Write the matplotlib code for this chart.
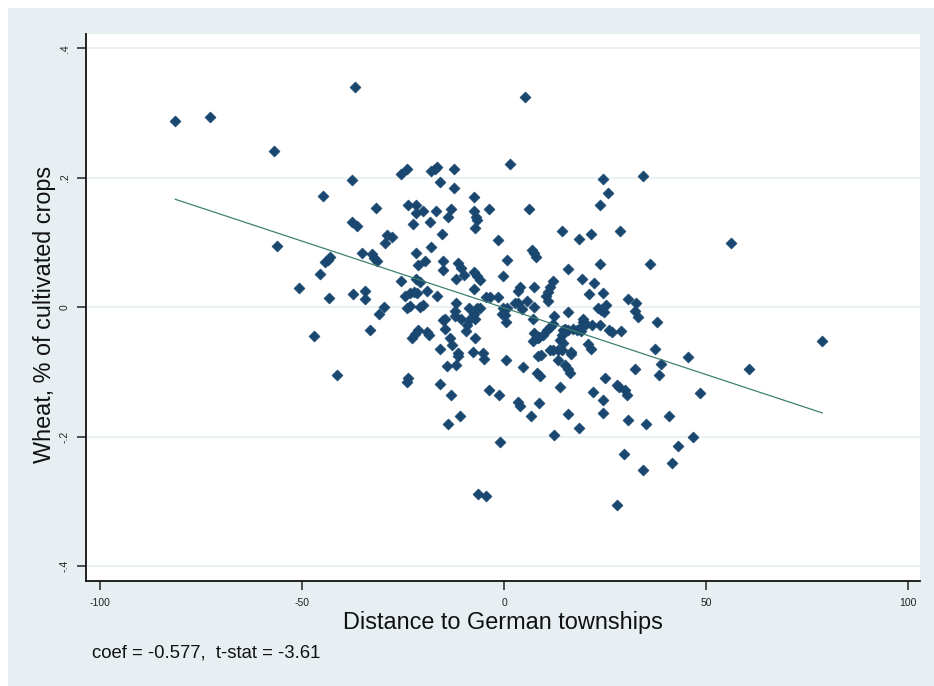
"""Wheat share vs. distance to German townships, Stata-style scatter with linear fit."""

import matplotlib.pyplot as plt
from matplotlib.patches import Rectangle
import numpy as np

plt.rcParams["font.family"] = ["Liberation Sans", "DejaVu Sans"]

distance = [
    -81.4, -72.7, -56.9, -36.9, -37.6, -44.8, -31.7, -37.6, -36.3, -29.0, -29.5, -56.1,
    -35.1, -32.7, -32.1, -31.5, -43.1, -43.6, -44.2, -45.6, -50.8, -43.3, -37.3, -34.3,
    -34.3, -29.8, -30.9, -47.0, -33.2, -41.4,
    34.3, 28.7, 56.2, 36.2, 30.6, 32.8, 32.4, 33.2, 37.8, 37.3, 45.6, 38.9,
    38.4, 32.4, 60.7, 78.8, 48.6, 30.6, 35.1, 40.8, 46.8, 43.0, 29.8, 41.5, 34.3, 28.0,
    5.3, 1.6, -25.6, -24.1, -18.1, -17.2, -16.5, -12.4, -15.8, -12.4, 24.6, 25.7,
    23.7, -7.5, -7.5, -6.9, -6.6, -7.1, -3.8, 6.1, -23.8, -21.9, -21.9, -20.1,
    -16.9, -22.6, -18.4, -13.9, -13.2, -15.4, -27.8, 14.3, 18.5, 21.5, -1.6, 6.9,
    7.4, 7.9, -21.8, -18.1, -21.4, -19.5, -15.0, -15.0, -11.4, -10.6, -9.8, -12.0,
    -7.4, -6.6, -5.9, 0.7, -0.3, 15.9, 23.7, 19.2, 22.3, 21.1, 24.6, 12.1,
    11.4, 11.0, 10.4, 11.0, 7.5, 3.5, 3.9, 5.6, 7.5, -25.6, -19.1, -16.5,
    -24.5, -23.3, -22.2, -21.6, -24.1, -23.4, -20.7, -20.0, -12.0, -7.4, -4.5, -3.5,
    -1.4, -8.6, -6.8, -5.9, -0.2, 0.7, 2.7, 3.5, 12.4, 15.9, 23.3, 25.2,
    24.8, 19.6, -12.1, -12.1, -14.6,
    -15.0, -14.5, -10.6, -8.6, -9.1, -9.4, -7.1, -7.4, -7.1, -13.4, -12.9, -15.8,
    -11.5, -11.3, -14.2, -11.9, -18.5, -19.1, -21.2, -22.8, -22.0, -7.6, -5.1, -5.0,
    -15.8, -13.2, -13.9, -10.9, -23.8, -24.1, -3.7, -1.2, -1.1, -6.5, -4.5, 0.4,
    4.6, 3.5, 4.0, 8.7, 6.8, 12.4, 15.9, 18.5, 13.9, 8.4, 9.2, 8.1,
    8.9, 13.4, 15.1, 15.8, 16.3, 11.4, 12.2, 13.4, 14.3, 16.5, 16.7, 13.9,
    14.3, 14.7, 14.5, 7.4, 8.5, 7.3, 8.7, 9.7, 10.6, 11.4, 12.2, 7.1,
    15.1, 15.9, 17.0, 18.0, 19.1, 19.6, 20.3, 21.7, 19.2, 20.9, 21.5, 23.8,
    26.1, 26.8, 29.0, 25.0, 22.1, 24.6, 24.6, 27.9, 28.5, 29.9, 30.5, 24.1,
    0.2, 0.5, -0.6, -21.9, -20.9, 4.4,
]

wheat_share = [
    0.287, 0.294, 0.242, 0.340, 0.197, 0.172, 0.153, 0.132, 0.125, 0.111, 0.099, 0.094,
    0.083, 0.082, 0.076, 0.071, 0.077, 0.073, 0.070, 0.052, 0.029, 0.014, 0.020, 0.025,
    0.012, 0.000, -0.011, -0.044, -0.036, -0.105,
    0.202, 0.118, 0.099, 0.066, 0.012, 0.007, -0.006, -0.015, -0.023, -0.065, -0.077, -0.088,
    -0.105, -0.095, -0.095, -0.053, -0.133, -0.175, -0.180, -0.168, -0.200, -0.215, -0.227, -0.240, -0.251, -0.306,
    0.325, 0.221, 0.205, 0.214, 0.210, 0.214, 0.217, 0.214, 0.193, 0.184, 0.198, 0.176,
    0.158, 0.170, 0.149, 0.139, 0.134, 0.123, 0.151, 0.151, 0.158, 0.158, 0.145, 0.148,
    0.148, 0.128, 0.132, 0.140, 0.151, 0.113, 0.108, 0.118, 0.106, 0.113, 0.104, 0.088,
    0.083, 0.077, 0.083, 0.093, 0.065, 0.071, 0.072, 0.057, 0.068, 0.061, 0.049, 0.044,
    0.054, 0.048, 0.042, 0.073, 0.048, 0.059, 0.066, 0.043, 0.038, 0.020, 0.022, 0.040,
    0.031, 0.024, 0.017, 0.009, 0.031, 0.025, 0.031, 0.010, 0.000, 0.040, 0.025, 0.017,
    0.017, 0.022, 0.024, 0.022, -0.002, 0.002, 0.000, 0.003, 0.007, 0.028, 0.015, 0.015,
    0.015, -0.002, -0.002, -0.002, -0.002, -0.002, 0.006, 0.006, -0.014, -0.008, -0.001, 0.003,
    -0.007, -0.018, -0.006, -0.014, -0.018,
    -0.020, -0.034, -0.019, -0.020, -0.028, -0.037, -0.018, -0.010, -0.048, -0.048, -0.058, -0.065,
    -0.071, -0.076, -0.091, -0.089, -0.043, -0.038, -0.035, -0.047, -0.042, -0.069, -0.071, -0.080,
    -0.119, -0.135, -0.180, -0.168, -0.110, -0.115, -0.128, -0.135, -0.208, -0.288, -0.291, -0.082,
    -0.093, -0.146, -0.152, -0.148, -0.168, -0.198, -0.165, -0.187, -0.123, -0.076, -0.074, -0.102,
    -0.106, -0.082, -0.089, -0.096, -0.101, -0.066, -0.066, -0.066, -0.066, -0.069, -0.072, -0.051,
    -0.043, -0.035, -0.056, -0.040, -0.048, -0.053, -0.046, -0.043, -0.035, -0.030, -0.026, -0.019,
    -0.033, -0.035, -0.034, -0.035, -0.037, -0.023, -0.026, -0.028, -0.029, -0.057, -0.064, -0.028,
    -0.035, -0.038, -0.037, -0.109, -0.131, -0.144, -0.163, -0.120, -0.124, -0.128, -0.135, -0.005,
    -0.012, -0.023, -0.010, 0.044, 0.039, -0.003,
]

# fitted line (same units as the plotted axes)
fit_intercept = -0.001
fit_slope = -0.00206

x_ticks = [-100, -50, 0, 50, 100]
y_ticks = [0.4, 0.2, 0.0, -0.2, -0.4]
y_tick_labels = [".4", ".2", "0", "-.2", "-.4"]

NAVY = "#1a476f"
FIT_GREEN = "#3f806f"
BG = "#e8eff2"

fig = plt.figure(figsize=(9.34, 6.86), dpi=100, facecolor="white")
fig.patches.append(Rectangle((8 / 934, 0), 1, 1 - 8 / 686, transform=fig.transFigure,
                             facecolor=BG, edgecolor="none", zorder=-10))

ax = fig.add_axes([86 / 934, 1 - 581 / 686, (920 - 86) / 934, (581 - 34) / 686])
ax.set_facecolor("white")

ax.scatter(distance, wheat_share, marker="D", s=32, color=NAVY,
           edgecolors=NAVY, linewidths=0.4, zorder=3)

xs = np.array([min(distance), max(distance)])
ax.plot(xs, fit_intercept + fit_slope * xs, color=FIT_GREEN, lw=0.9, zorder=4)

ax.set_xlim(-103.5, 103)
ax.set_ylim(-0.423, 0.422)
ax.set_xticks(x_ticks)
ax.set_xticklabels([str(t) for t in x_ticks], fontsize=7.5, color="#222222")
ax.set_yticks(y_ticks)
ax.set_yticklabels(y_tick_labels, fontsize=7.5, color="#222222",
                   rotation=90, va="center")
ax.tick_params(direction="out", length=6.5, width=1.1, colors="#222222")
ax.tick_params(axis="x", pad=6)
ax.tick_params(axis="y", pad=5)

ax.grid(axis="y", color="#eaf1f3", lw=1.4, zorder=0)
ax.set_axisbelow(True)

for side in ("top", "right"):
    ax.spines[side].set_visible(False)
for side in ("left", "bottom"):
    ax.spines[side].set_color("#111111")
    ax.spines[side].set_linewidth(1.3)

fig.text(503 / 934, 1 - 622 / 686, "Distance to German townships",
         fontsize=16.9, ha="center", va="center", color="#111111")
fig.text(45 / 934, 1 - 314 / 686, "Wheat, % of cultivated crops",
         fontsize=16.8, ha="center", va="center", rotation=90, color="#111111")
fig.text(92 / 934, 1 - 653 / 686, "coef = -0.577,  t-stat = -3.61",
         fontsize=13.3, ha="left", va="center", color="#111111")

fig.savefig("out.png", dpi=100, facecolor=fig.get_facecolor())
